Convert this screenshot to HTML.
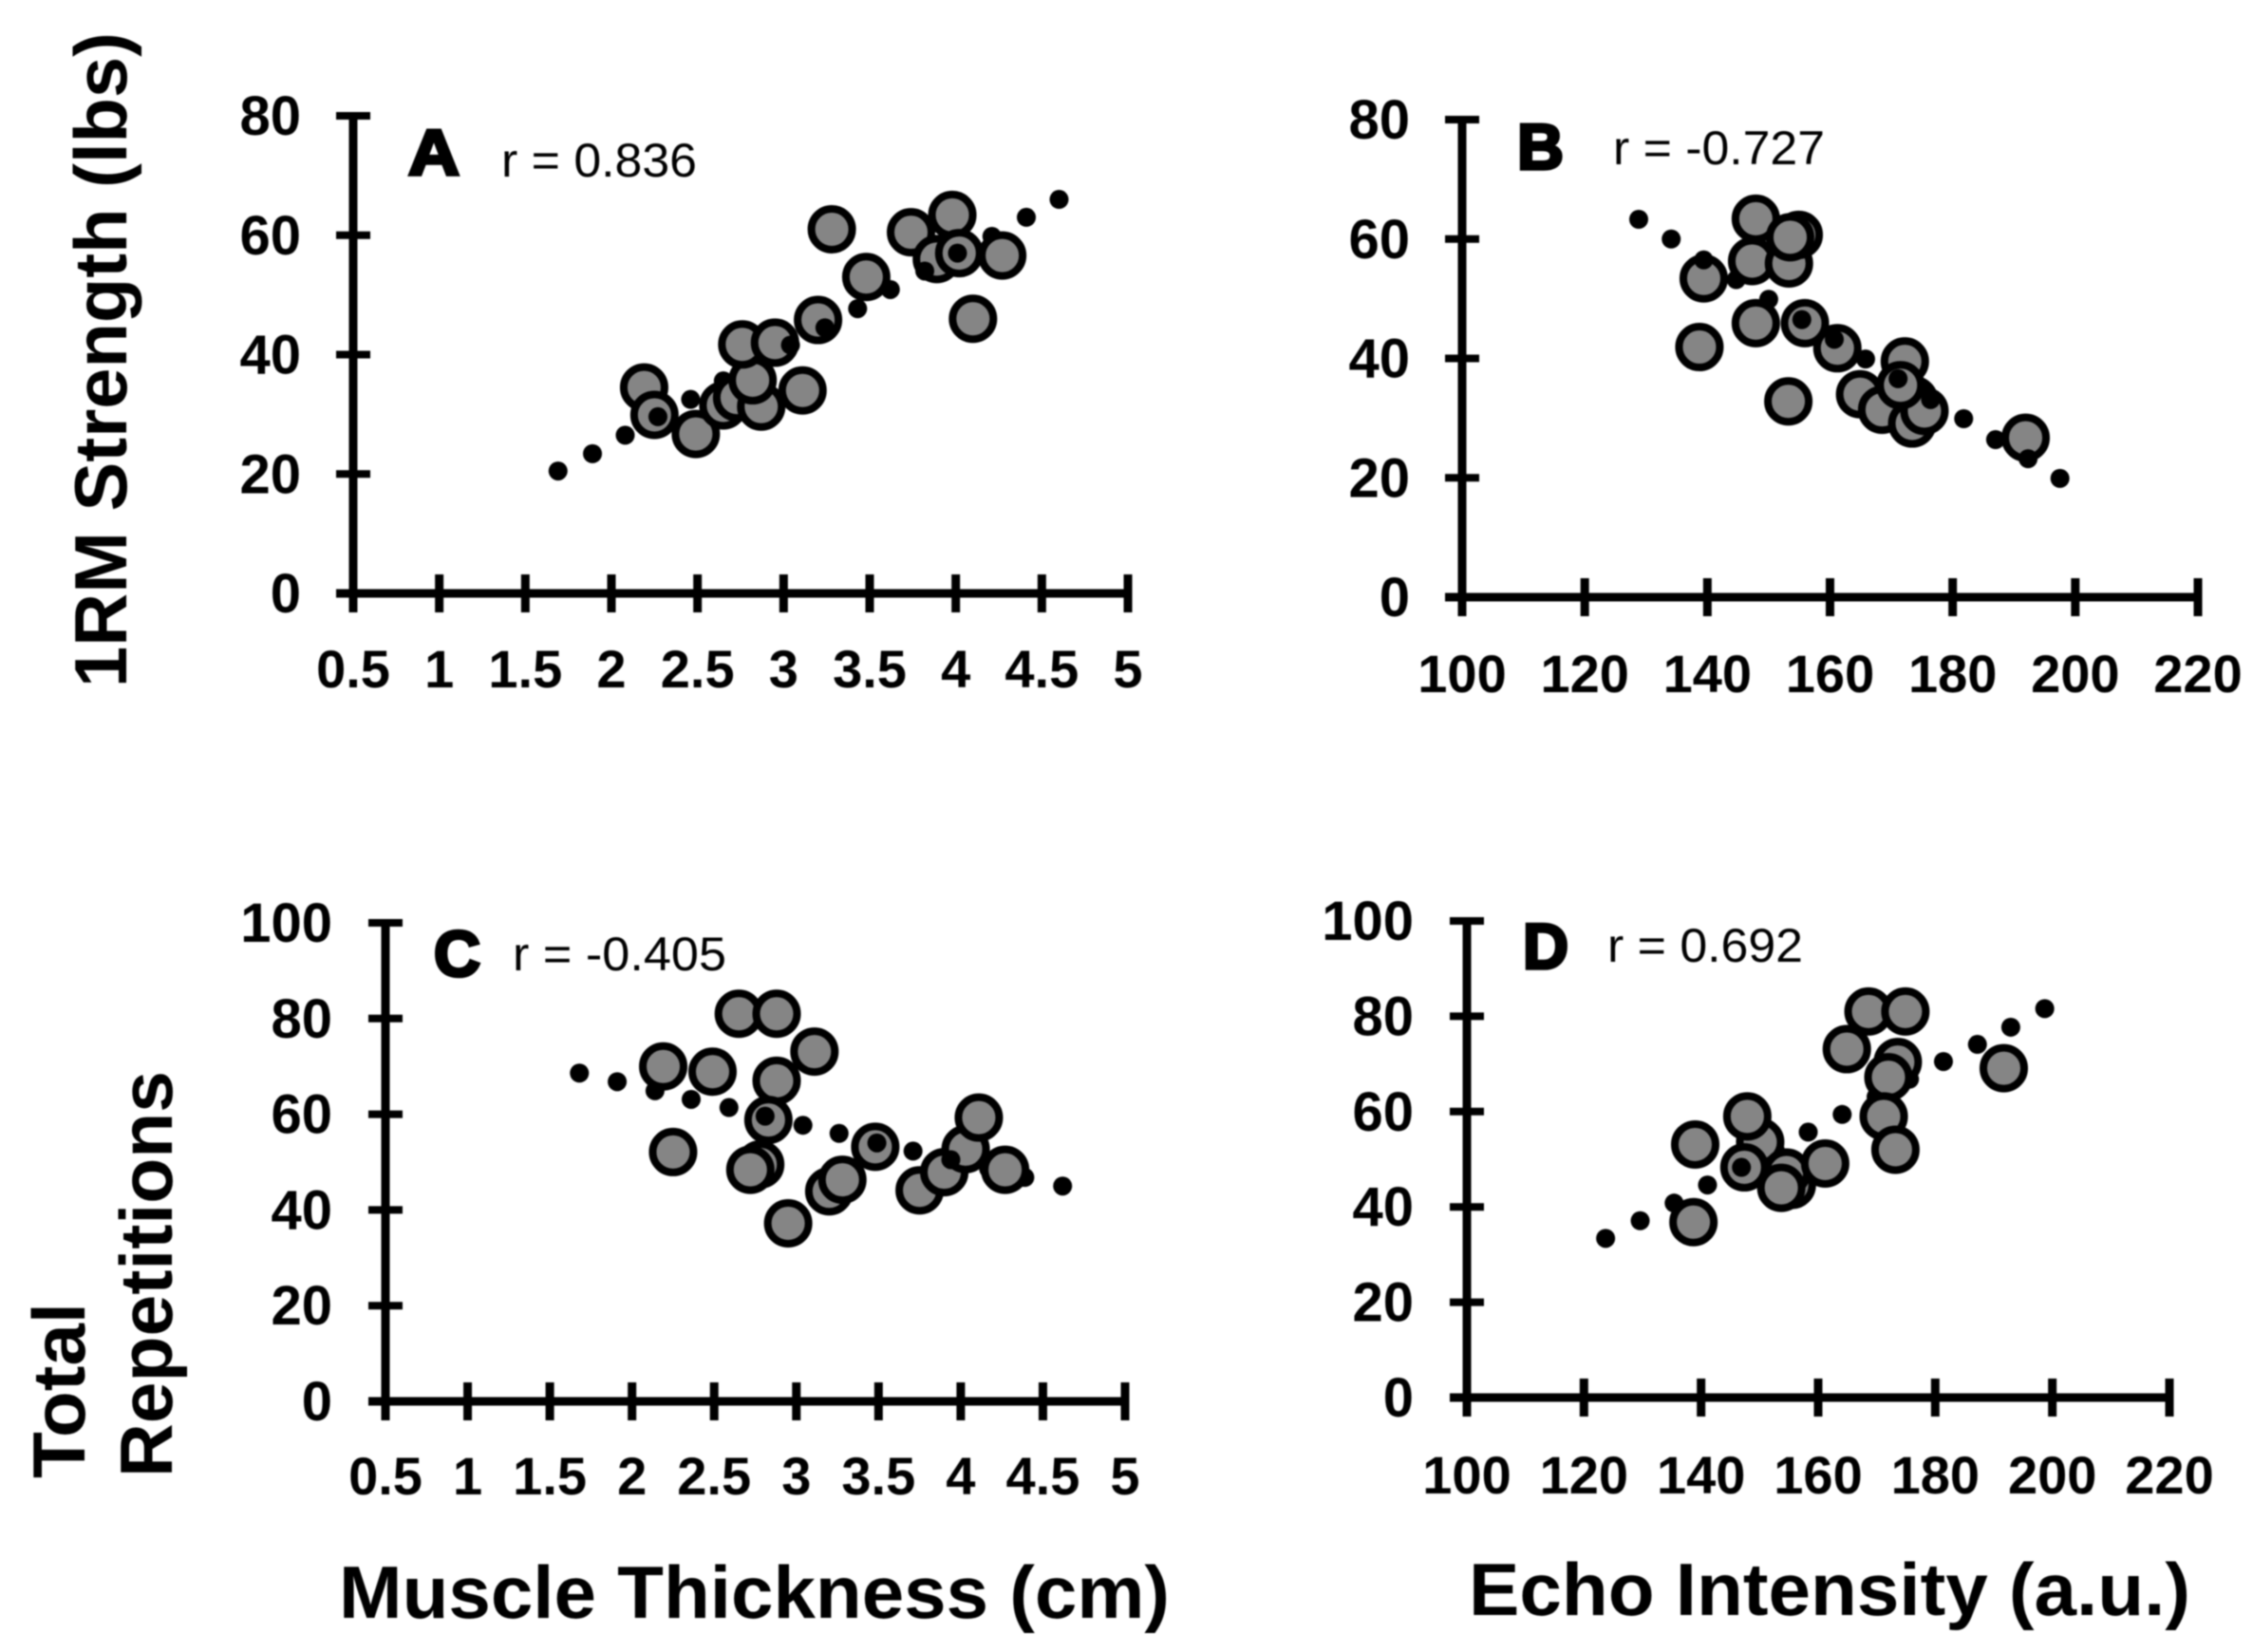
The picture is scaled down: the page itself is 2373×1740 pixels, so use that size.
<!DOCTYPE html>
<html lang="en">
<head>
<meta charset="utf-8">
<title>Muscle thickness and echo intensity correlations</title>
<style>
html,body{margin:0;padding:0;background:#fff;width:2373px;height:1740px;overflow:hidden}
svg{display:block;filter:blur(0.8px)}
text{font-family:"Liberation Sans",sans-serif;fill:#000}
.tick{font-weight:700;font-size:56px}
.ytick{font-weight:700;font-size:58px}
.title{font-weight:700;font-size:78px}
.letter{font-weight:700;font-size:68px;stroke:#000;stroke-width:3.5px}
.r{font-size:50px}
</style>
</head>
<body>
<svg id="chart" width="2373" height="1740" viewBox="0 0 2373 1740" xmlns="http://www.w3.org/2000/svg">
  <rect x="0" y="0" width="2373" height="1740" fill="#ffffff"/>
  <text class="title" transform="translate(133,724) rotate(-90)" textLength="690" lengthAdjust="spacingAndGlyphs">1RM Strength (lbs)</text>
  <text class="title" transform="translate(89,1557) rotate(-90)" textLength="185" lengthAdjust="spacingAndGlyphs">Total</text>
  <text class="title" transform="translate(181,1556) rotate(-90)" textLength="428" lengthAdjust="spacingAndGlyphs">Repetitions</text>
  <text class="title" x="357" y="1704" textLength="875" lengthAdjust="spacingAndGlyphs">Muscle Thickness (cm)</text>
  <text class="title" x="1547" y="1701" textLength="760" lengthAdjust="spacingAndGlyphs">Echo Intensity (a.u.)</text>
  <text class="letter" x="430" y="184" textLength="54" lengthAdjust="spacingAndGlyphs">A</text>
  <text class="letter" x="1598" y="178" textLength="49" lengthAdjust="spacingAndGlyphs">B</text>
  <text class="letter" x="457" y="1028" textLength="49" lengthAdjust="spacingAndGlyphs">C</text>
  <text class="letter" x="1604" y="1020" textLength="48" lengthAdjust="spacingAndGlyphs">D</text>
  <text class="r" x="528" y="186" textLength="206" lengthAdjust="spacingAndGlyphs">r = 0.836</text>
  <text class="r" x="1699" y="173" textLength="223" lengthAdjust="spacingAndGlyphs">r = -0.727</text>
  <text class="r" x="540" y="1022" textLength="225" lengthAdjust="spacingAndGlyphs">r = -0.405</text>
  <text class="r" x="1693" y="1013" textLength="206" lengthAdjust="spacingAndGlyphs">r = 0.692</text>
</svg>
<script>
// Tick labels
const thicknessTicks = ['0.5','1','1.5','2','2.5','3','3.5','4','4.5','5'];
const echoTicks = ['100','120','140','160','180','200','220'];
const strengthTicks = ['0','20','40','60','80'];
const repsTicks = ['0','20','40','60','80','100'];

// Panel A: thickness vs strength
const aPointX = [2.19,2.25,2.49,2.65,2.73,2.87,2.82,2.76,2.95,3.11,3.20,3.48,3.28,3.74,3.98,3.89,4.02,4.27,4.10];
const aPointY = [34.5,29.9,26.7,31.5,32.8,31.3,35.7,41.7,42.0,34.0,45.8,53.0,61.0,60.5,63.4,56.0,57.0,56.6,46.0];
const aTrendBackX = [1.69,1.89,2.08,2.46,2.65,2.85,3.43,3.62,4.21,4.41,4.60];
const aTrendBackY = [20.5,23.4,26.5,32.5,35.6,38.7,47.7,50.9,59.8,63.0,66.0];
const aTrendFrontX = [2.27,3.04,3.24,3.82,4.01];
const aTrendFrontY = [29.6,41.6,44.5,54.0,57.0];

// Panel B: echo vs strength
const bPointX = [147.9,147.3,153.3,154.9,153.5,139.4,138.7,147.9,155.9,161.2,164.9,153.2,172.2,173.7,168.5,173.4,175.4,171.5,191.9];
const bPointY = [63.4,56.3,55.9,60.7,60.3,53.4,41.9,45.9,45.9,41.7,34.0,32.8,39.5,33.0,31.4,29.1,31.2,35.5,26.7];
const bTrendBackX = [128.8,134.1,144.7,150.0,165.8,181.8,187.0,197.5];
const bTrendBackY = [63.3,60.0,53.2,49.9,39.9,29.9,26.4,19.9];
const bTrendFrontX = [139.4,155.4,160.7,171.1,176.4,192.3];
const bTrendFrontY = [56.5,46.5,43.2,36.6,33.1,23.2];

// Panel C: thickness vs repetitions
const cPointX = [2.19,2.25,2.49,2.65,2.88,3.11,2.88,2.83,2.78,2.72,2.95,3.20,3.28,3.48,3.75,3.90,4.03,4.11,4.27];
const cPointY = [70.0,52.1,68.9,81.0,81.0,73.1,67.0,58.8,49.5,48.4,37.2,43.9,46.3,53.2,44.1,47.9,52.7,59.3,48.4];
const cTrendBackX = [1.68,1.91,2.14,2.36,2.59,3.04,3.26,3.71,4.17,4.39,4.62];
const cTrendBackY = [68.6,66.8,64.9,63.1,61.4,57.7,56.0,52.3,48.6,46.8,45.0];
const cTrendFrontX = [2.81,3.49,3.94];
const cTrendFrontY = [59.6,54.0,50.5];

// Panel D: echo vs repetitions
const dPointX = [139.0,138.7,150.1,147.9,147.4,155.5,154.6,153.7,161.2,164.9,168.6,174.9,173.6,172.0,171.2,173.2,191.7];
const dPointY = [53.1,36.8,53.6,59.0,48.3,44.6,47.2,44.0,49.1,73.1,81.0,81.0,70.4,67.2,59.0,52.0,69.1];
const dTrendBackX = [123.7,129.6,135.4,141.1,152.7,158.3,164.1,169.9,175.6,181.4,187.2,192.9,198.7];
const dTrendBackY = [33.4,37.1,40.8,44.6,51.8,55.7,59.4,63.1,66.8,70.5,74.1,77.7,81.6];
const dTrendFrontX = [146.9];
const dTrendFrontY = [48.3];

const SVG_NS = 'http://www.w3.org/2000/svg';
const root = document.getElementById('chart');

function makeScale(d0, d1, r0, r1) {
  return function (v) { return r0 + (v - d0) / (d1 - d0) * (r1 - r0); };
}

function addLine(group, x1, y1, x2, y2, w) {
  const el = document.createElementNS(SVG_NS, 'line');
  el.setAttribute('x1', x1);
  el.setAttribute('y1', y1);
  el.setAttribute('x2', x2);
  el.setAttribute('y2', y2);
  el.setAttribute('stroke', '#000');
  el.setAttribute('stroke-width', w);
  group.appendChild(el);
  return el;
}

function addLabel(group, cls, x, y, anchor, str) {
  const el = document.createElementNS(SVG_NS, 'text');
  el.setAttribute('class', cls);
  el.setAttribute('x', x);
  el.setAttribute('y', y);
  el.setAttribute('text-anchor', anchor);
  el.textContent = str;
  group.appendChild(el);
  return el;
}

function addTrendDots(group, xs, ys, sx, sy) {
  xs.forEach(function (v, i) {
    const el = document.createElementNS(SVG_NS, 'circle');
    
    
    el.setAttribute('cx', sx(v));
    el.setAttribute('cy', sy(ys[i]));
    el.setAttribute('r', 10);
    el.setAttribute('fill', '#000');
    group.appendChild(el);
  });
}

function addPoints(group, xs, ys, sx, sy) {
  xs.forEach(function (v, i) {
    const el = document.createElementNS(SVG_NS, 'circle');
    
    
    el.setAttribute('cx', sx(v));
    el.setAttribute('cy', sy(ys[i]));
    el.setAttribute('r', 21.5);
    el.setAttribute('fill', '#858585');
    el.setAttribute('stroke', '#000');
    el.setAttribute('stroke-width', 8);
    group.appendChild(el);
  });
}

function drawPanel(p) {
  const g = document.createElementNS(SVG_NS, 'g');
  
  
  root.appendChild(g);

  const xVals = p.xTicks.map(Number);
  const yVals = p.yTicks.map(Number);
  const sx = makeScale(xVals[0], xVals[xVals.length - 1], p.left, p.right);
  const sy = makeScale(yVals[0], yVals[yVals.length - 1], p.bottom, p.top);

  const yAxis = addLine(g, p.left, p.top - 4, p.left, p.bottom + 20, 9);
  
  
  const xAxis = addLine(g, p.left - 18, p.bottom, p.right + 4, p.bottom, 9);
  
  

  p.xTicks.forEach(function (t) {
    const x = sx(Number(t));
    const mark = addLine(g, x, p.bottom - 20, x, p.bottom + 20, 9);
    
    
    const label = addLabel(g, 'tick', x, p.xLabelY, 'middle', t);
    
    
  });

  p.yTicks.forEach(function (t) {
    const y = sy(Number(t));
    const mark = addLine(g, p.left - 18, y, p.left + 18, y, 8);
    
    
    const label = addLabel(g, 'ytick', p.yLabelX, y + 20, 'end', t);
    
    
  });

  addTrendDots(g, p.backX, p.backY, sx, sy);
  addPoints(g, p.pointX, p.pointY, sx, sy);
  addTrendDots(g, p.frontX, p.frontY, sx, sy);
}

drawPanel({name:'panel-a', left:372, right:1188, top:122, bottom:625, xLabelY:724, yLabelX:317,
  xTicks:thicknessTicks, yTicks:strengthTicks, pointX:aPointX, pointY:aPointY,
  backX:aTrendBackX, backY:aTrendBackY, frontX:aTrendFrontX, frontY:aTrendFrontY});
drawPanel({name:'panel-b', left:1540, right:2315, top:126, bottom:629, xLabelY:729, yLabelX:1485,
  xTicks:echoTicks, yTicks:strengthTicks, pointX:bPointX, pointY:bPointY,
  backX:bTrendBackX, backY:bTrendBackY, frontX:bTrendFrontX, frontY:bTrendFrontY});
drawPanel({name:'panel-c', left:406, right:1185, top:972, bottom:1476, xLabelY:1574, yLabelX:350,
  xTicks:thicknessTicks, yTicks:repsTicks, pointX:cPointX, pointY:cPointY,
  backX:cTrendBackX, backY:cTrendBackY, frontX:cTrendFrontX, frontY:cTrendFrontY});
drawPanel({name:'panel-d', left:1545, right:2285, top:970, bottom:1472, xLabelY:1573, yLabelX:1489,
  xTicks:echoTicks, yTicks:repsTicks, pointX:dPointX, pointY:dPointY,
  backX:dTrendBackX, backY:dTrendBackY, frontX:dTrendFrontX, frontY:dTrendFrontY});
</script>
</body>
</html>
